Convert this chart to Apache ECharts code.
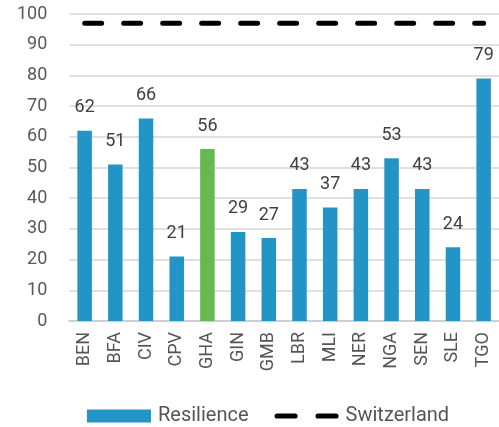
<!DOCTYPE html>
<html>
<head>
<meta charset="utf-8">
<script src="https://cdn.jsdelivr.net/npm/echarts@6/dist/echarts.min.js"></script>
<style>html,body{margin:0;padding:0;background:#fff}#c{width:499px;height:427px}</style>
</head>
<body>
<div id="c"></div>
<script>
const categories = ['BEN','BFA','CIV','CPV','GHA','GIN','GMB','LBR','MLI','NER','NGA','SEN','SLE','TGO'];
const resilience = [62,51,66,21,56,29,27,43,37,43,53,43,24,79];
const switzerland = [97,97,97,97,97,97,97,97,97,97,97,97,97,97];
const highlight = 'GHA';

const BLUE = '#2294c6', GREEN = '#64ba50';
const DASH_ICON = 'path://M2.5,0 H19.5 A2.5,2.5 0 0 1 19.5,5 H2.5 A2.5,2.5 0 0 1 2.5,0 Z M41.5,0 H58.5 A2.5,2.5 0 0 1 58.5,5 H41.5 A2.5,2.5 0 0 1 41.5,0 Z';
const chart = echarts.init(document.getElementById('c'), null, {renderer:'canvas'});
chart.setOption({
  animation: false,
  textStyle: {fontFamily: 'Roboto'},
  grid: {left: 69.3, right: -3.5, top: 14, bottom: 106, containLabel: false},
  legend: {
    top: 401, left: 82, itemGap: 26, itemWidth: 64, itemHeight: 13,
    textStyle: {fontSize: 20, color: '#555', fontFamily: 'Roboto', padding: [0, 0, 0, 2]},
    data: [
      {name: 'Resilience', icon: 'rect'},
      {name: 'Switzerland', icon: DASH_ICON, itemStyle: {color: '#000'}}
    ]
  },
  xAxis: {
    type: 'category', data: categories,
    axisTick: {show: false},
    axisLine: {lineStyle: {color: '#cfcfcf', width: 2}},
    axisLabel: {rotate: 90, fontSize: 18, color: '#555', margin: 11, interval: 0}
  },
  yAxis: {
    type: 'value', min: 0, max: 100, interval: 10,
    axisLine: {show: false}, axisTick: {show: false},
    axisLabel: {fontSize: 18, color: '#595959', margin: 22},
    splitLine: {lineStyle: {color: '#d6d6d6', width: 1.5}}
  },
  series: [
    {
      name: 'Resilience', type: 'bar', barWidth: 14.5,
      itemStyle: {color: BLUE},
      data: resilience.map((v, i) => ({value: v, itemStyle: {color: categories[i] === highlight ? GREEN : BLUE}})),
      label: {show: true, position: 'top', distance: 14, fontSize: 18, color: '#404040'}
    },
    {
      name: 'Switzerland', type: 'line', data: switzerland, symbol: 'none',
      itemStyle: {color: '#000'},
      lineStyle: {color: '#000', width: 5, type: [17, 22], cap: 'round'},
      z: 5
    }
  ]
});
</script>
</body>
</html>
